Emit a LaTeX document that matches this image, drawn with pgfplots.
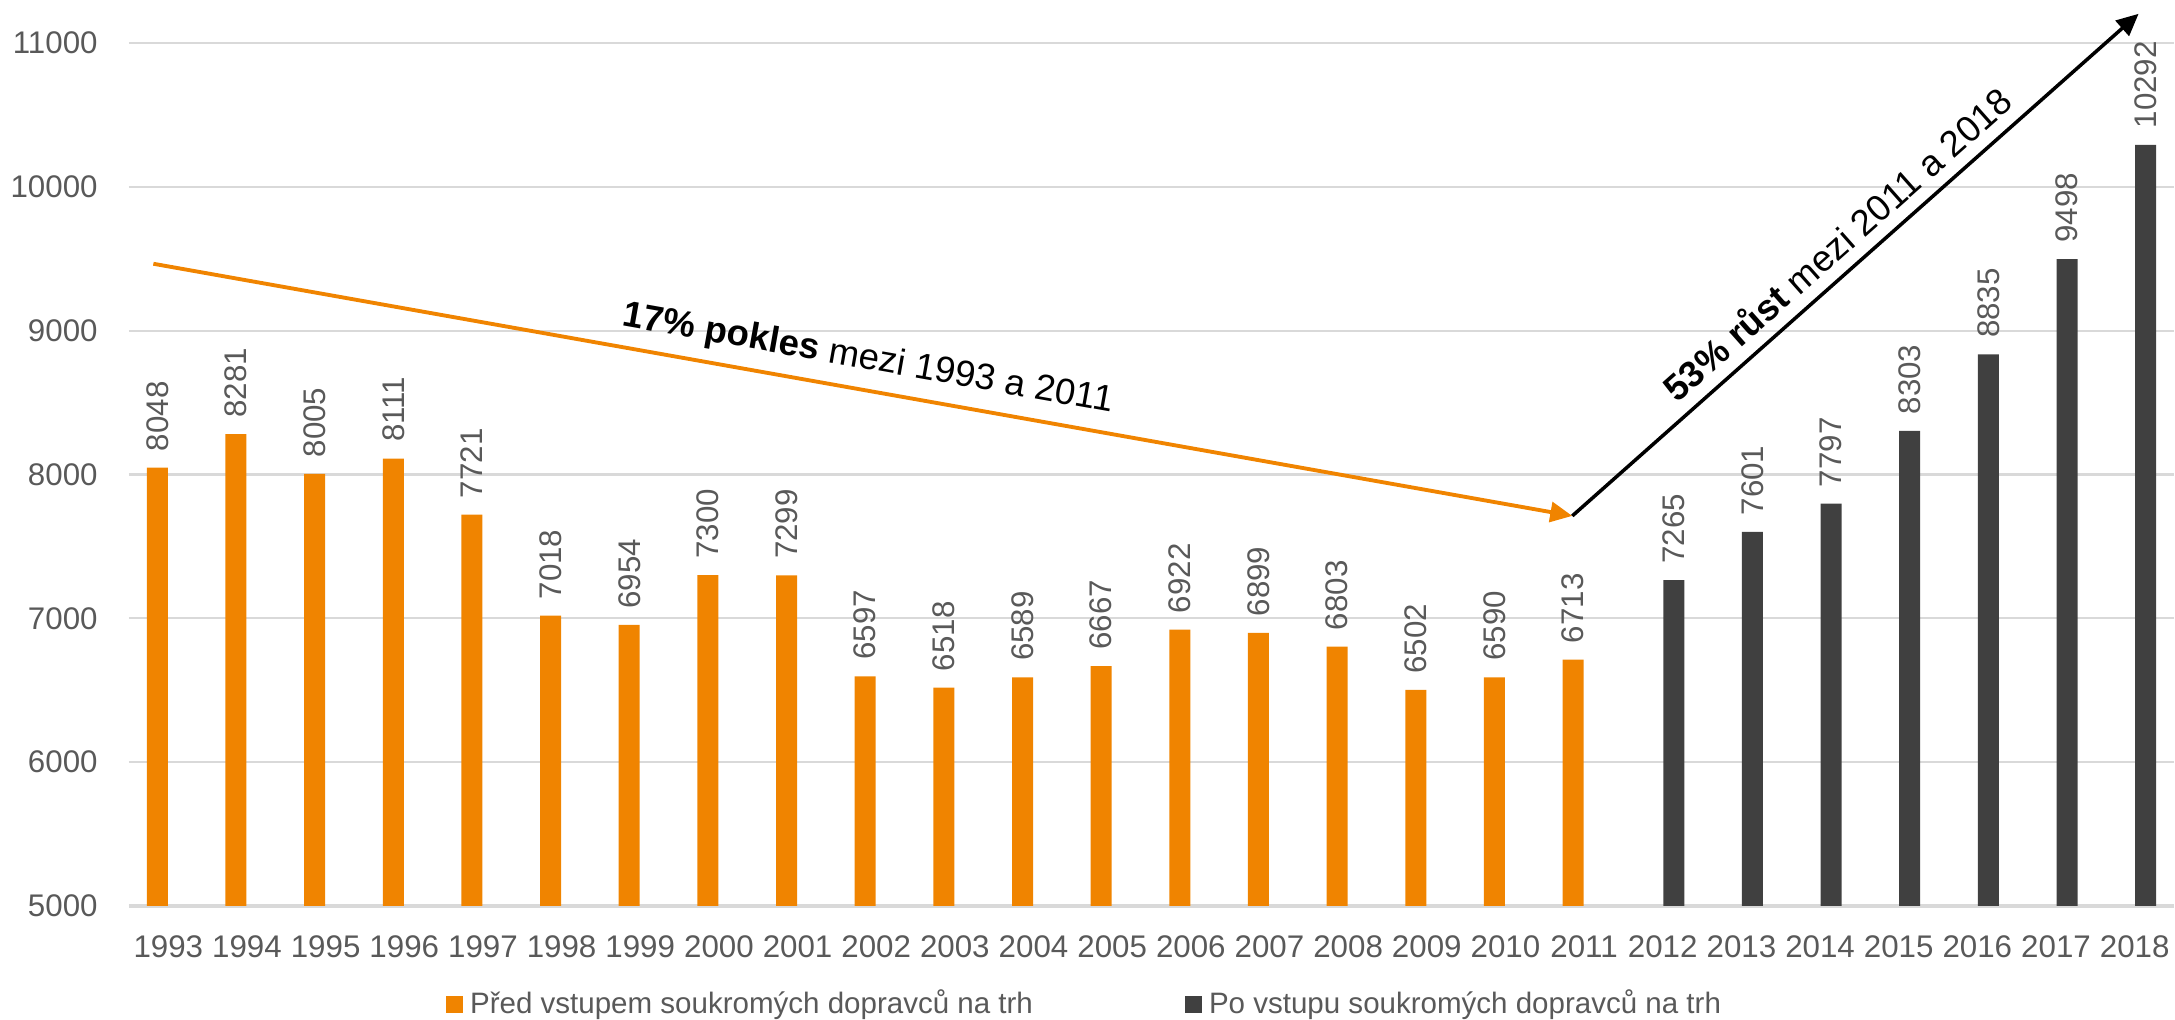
\documentclass[border=0pt]{standalone}
\usepackage{pgfplots}
\pgfplotsset{compat=1.18}
\usepackage{fontspec}
\setmainfont{Liberation Sans}
\usetikzlibrary{arrows.meta,calc}
\definecolor{cOrange}{RGB}{240,132,0}
\definecolor{cDark}{RGB}{64,64,64}
\definecolor{cGrid}{RGB}{217,217,217}
\definecolor{cText}{RGB}{89,89,89}
\begin{document}
\begin{tikzpicture}
\begin{axis}[
  scale only axis,
  width=20.45cm, height=8.63cm,
  xmin=-0.5, xmax=25.5,
  ymin=5000, ymax=11000,
  ytick={5000,6000,...,11000},
  scaled y ticks=false,
  xtick={0,...,25},
  xticklabels={1993,1994,1995,1996,1997,1998,1999,2000,2001,2002,2003,2004,2005,2006,2007,2008,2009,2010,2011,2012,2013,2014,2015,2016,2017,2018},
  /pgf/number format/1000 sep={},
  /pgf/number format/assume math mode=true,
  major tick length=0pt,
  axis lines=left,
  axis line style={-},
  y axis line style={draw=none},
  x axis line style={draw=cGrid, line width=1.2pt},
  ymajorgrids,
  grid style={cGrid, line width=0.6pt},
  tick label style={font=\fontsize{8.9}{10}\selectfont, text=cText},
  yticklabel style={xshift=-0.19cm},
  xticklabel style={yshift=-0.17cm},
  clip=false,
  ybar,
  bar width=0.267,
  nodes near coords,
  every node near coord/.append style={rotate=90, anchor=west, inner xsep=4.5pt, font=\fontsize{8.9}{10}\selectfont, text=cText},
  legend style={draw=none, at={(0.4685,-0.1136)}, anchor=center, legend columns=2,
    font=\fontsize{8.4}{10}\selectfont, text=cText,
    /tikz/every even column/.append style={column sep=1.45cm}},
  legend image code/.code={\fill[#1] (0cm,-0.085cm) rectangle (0.17cm,0.085cm);},
]
\addplot[fill=cOrange, draw=none, bar shift=-0.14] coordinates {
(0,8048) (1,8281) (2,8005) (3,8111) (4,7721) (5,7018) (6,6954) (7,7300) (8,7299) (9,6597)
(10,6518) (11,6589) (12,6667) (13,6922) (14,6899) (15,6803) (16,6502) (17,6590) (18,6713)};
\addlegendentry{Před vstupem soukromých dopravců na trh}
\addplot[fill=cDark, draw=none, bar shift=0.14] coordinates {
(19,7265) (20,7601) (21,7797) (22,8303) (23,8835) (24,9498) (25,10292)};
\addlegendentry{Po vstupu soukromých dopravců na trh}
\coordinate (origin) at (rel axis cs:0,0);
\draw[cOrange, line width=1.1pt, -{Triangle[length=0.22cm,width=0.2cm]}] (axis cs:-0.19,9465) -- (axis cs:17.85,7712)
  node[midway, above, sloped, text=black, font=\fontsize{10.4}{12}\selectfont] {\textbf{17\% pokles} mezi 1993 a 2011};
\draw[black, line width=1pt, -{Triangle[length=0.22cm,width=0.2cm]}] (axis cs:17.85,7712) -- (axis cs:25.05,11203)
  node[midway, above, sloped, text=black, font=\fontsize{10.4}{12}\selectfont] {\textbf{53\% růst} mezi 2011 a 2018};
\end{axis}
\pgfresetboundingbox
\path[use as bounding box] ($(origin)+(-1.29cm,-1.14cm)$) rectangle ($(origin)+(20.46cm,9.06cm)$);
\end{tikzpicture}
\end{document}
